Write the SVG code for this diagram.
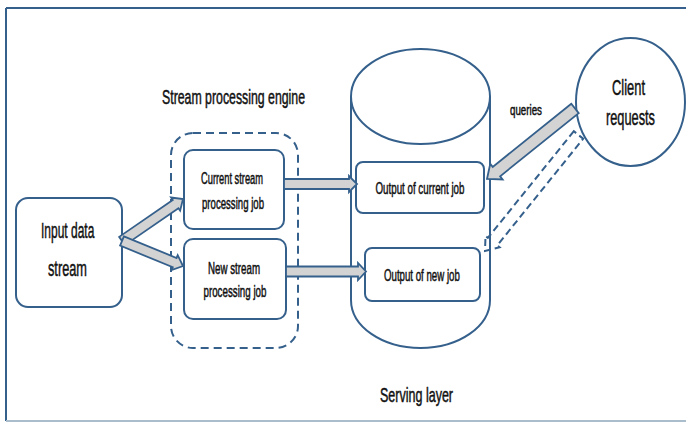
<svg xmlns="http://www.w3.org/2000/svg" width="686" height="423" viewBox="0 0 686 423">
<style>
.ln{fill:#fff;stroke:#35608c;stroke-width:2}
.dash{fill:none;stroke:#35608c;stroke-width:2;stroke-dasharray:8 5}
.arr{fill:#d3d3d3;stroke:#35608c;stroke-width:1.8;stroke-linejoin:miter}
.darr{fill:none;stroke:#35608c;stroke-width:2;stroke-dasharray:7 4}
text{font-family:"Liberation Sans",Arial,sans-serif;fill:#111;stroke:#111;stroke-width:0.5}
.big{font-size:22px}
.mid{font-size:20px}
.sm{font-size:16.5px}
.xs{font-size:15px}
</style>
<rect x="0" y="0" width="686" height="423" fill="#fff"/>
<g id="frame">
<path d="M6,8 H690 M6,8 V421" fill="none" stroke="#35608c" stroke-width="2"/>
<path d="M6,421 H686" fill="none" stroke="#a9bdcd" stroke-width="2"/>
</g>
<g id="engine">
<rect class="dash" x="171" y="133" width="127" height="215" rx="22"/>
<text class="mid" transform="translate(162,103.5) scale(0.616,1)">Stream processing engine</text>
</g>
<g id="serving-layer">
<path class="ln" d="M351,96.5 V300 A69.5,48 0 0 0 490,300 V96.5"/>
<ellipse class="ln" cx="420.5" cy="96.5" rx="69.5" ry="47.5"/>
<text class="mid" transform="translate(380,401.5) scale(0.626,1)">Serving layer</text>
</g>
<g id="input">
<rect class="ln" x="16" y="198" width="106" height="109" rx="12"/>
<text class="big" transform="translate(41,238) scale(0.545,1)">Input data</text>
<text class="big" transform="translate(48,276) scale(0.58,1)">stream</text>
</g>
<g id="current-job">
<rect class="ln" x="184" y="150" width="100" height="79" rx="9"/>
<text class="sm" transform="translate(201,184) scale(0.564,1)">Current stream</text>
<text class="sm" transform="translate(202,208.5) scale(0.583,1)">processing job</text>
</g>
<g id="new-job">
<rect class="ln" x="184" y="239" width="102" height="80" rx="9"/>
<text class="sm" transform="translate(208,273.5) scale(0.591,1)">New stream</text>
<text class="sm" transform="translate(203.5,297) scale(0.592,1)">processing job</text>
</g>
<g id="output-current">
<rect class="ln" x="356" y="162" width="128" height="51" rx="7"/>
<text class="sm" transform="translate(375.5,193.5) scale(0.592,1)">Output of current job</text>
</g>
<g id="output-new">
<rect class="ln" x="365" y="248" width="115" height="53" rx="7"/>
<text class="sm" transform="translate(384,280.5) scale(0.587,1)">Output of new job</text>
</g>
<g id="client">
<ellipse class="ln" cx="630.5" cy="102" rx="54.5" ry="64"/>
<text class="big" transform="translate(612,94.5) scale(0.587,1)">Client</text>
<text class="big" transform="translate(606,124.5) scale(0.581,1)">requests</text>
</g>
<g id="connectors">
<polygon class="arr" points="119.16,236.88 172.75,199.98 171.05,197.51 183,199 180.13,210.69 178.43,208.22 124.84,245.12"/>
<polygon class="arr" points="123.9,236.37 176.57,257.96 177.7,255.19 183,266 171.64,269.99 172.77,267.22 120.1,245.63"/>
<polygon class="arr" points="284,179 349,179 349,176 357,184 349,192 349,189 284,189"/>
<polygon class="arr" points="286,266.5 358,266.5 358,263 366,271.5 358,280 358,276.5 286,276.5"/>
<polygon class="arr" points="571.3,103.8 492.72,166.86 490.24,163.71 487,179 502.62,179.43 500.14,176.28 578.7,113.2"/>
<polygon class="darr" points="573.83,131.23 487.86,237.89 485.52,236.01 485,251 499.54,247.31 497.2,245.43 583.17,138.77"/>
<text class="xs" transform="translate(510,115) scale(0.65,1)">queries</text>
</g>
</svg>
